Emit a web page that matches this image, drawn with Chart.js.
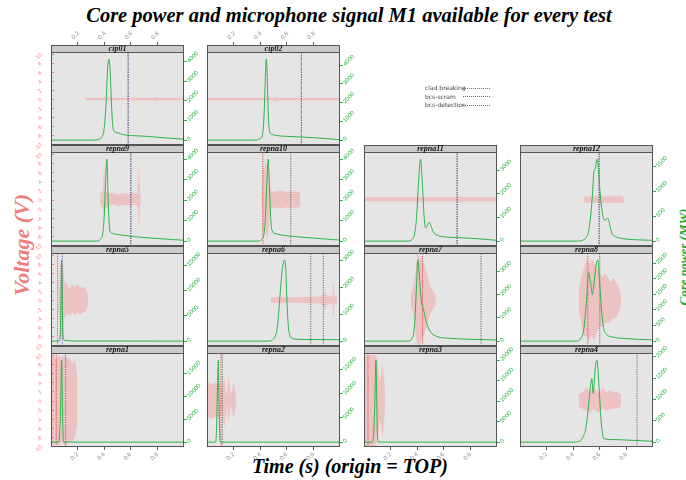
<!DOCTYPE html>
<html>
<head>
<meta charset="utf-8">
<script src="https://cdn.jsdelivr.net/npm/chart.js@4.4.1/dist/chart.umd.min.js"></script>
<style>
  body { margin: 0; background: #fff; }
  #page { position: relative; width: 686px; height: 480px; overflow: hidden; }
  #page canvas { position: absolute; }
  .strip { position: absolute; height: 8px; box-sizing: border-box; border: 1px solid #555; background: #cbcbcb;
           font: italic bold 8px "Liberation Serif", serif; line-height: 6px; text-align: center; color: #111; z-index: 2; }
  .lbl { position: absolute; white-space: nowrap; font-family: "Liberation Serif", serif; font-style: italic; font-weight: bold; }
  .leg { position: absolute; font: 6px "DejaVu Sans", sans-serif; color: #444; white-space: nowrap; }
  .legline { position: absolute; width: 27px; height: 0; border-top: 1px dotted; }
</style>
</head>
<body>
<div id="page">
  <div class="lbl" style="left:0;width:698px;top:4px;text-align:center;font-size:20.5px;">Core power and microphone signal M1 available for every test</div>
  <div class="lbl" style="left:0;width:700px;top:455px;text-align:center;font-size:20px;">Time (s) (origin = TOP)</div>
  <div class="lbl" style="left:22px;top:245px;font-size:22px;color:#f07c7c;transform:translate(-50%,-50%) rotate(-90deg);">Voltage (V)</div>
  <div class="lbl" style="left:684px;top:257px;font-size:13px;color:#22aa33;transform:translate(-50%,-50%) rotate(-90deg);">Core power (MW)</div>
</div>
<script>
// panels in drawing order (lattice layout, bottom row = repna1..4)
const panelNames = ['cip01', 'cip02', 'repna9', 'repna10', 'repna11', 'repna12',
                    'repna5', 'repna6', 'repna7', 'repna8', 'repna1', 'repna2', 'repna3', 'repna4'];
const panelRow = [0, 0, 1, 1, 1, 1, 2, 2, 2, 2, 3, 3, 3, 3];
const panelCol = [0, 1, 0, 1, 2, 3, 0, 1, 2, 3, 0, 1, 2, 3];

// event times (s)
const cladBreaking = [null, null, null, 0.42, null, null, 0.05, null, 0.44, 0.51, 0.04, 0.105, 0.03, null];
const bcsScram     = [0.58, 0.71, 0.60, 0.63, 0.70, 0.595, null, 0.78, 0.88, 0.60, 0.11, 0.115, null, 0.88];
const bcsDetection = [0.58, 0.71, 0.60, null, 0.70, 0.595, 0.085, 0.875, null, null, null, null, null, null];

// tick labels
const timeTicks = [0.2, 0.4, 0.6, 0.8];
const voltTicks = [-10, -8, -6, -4, -2, 0, 2, 4, 6, 8, 10];
const powerStep = [1000, 1000, 1000, 1000, 1000, 500, 5000, 1000, 1000, 500, 5000, 5000, 5000, 500];

// core power (MW) : time / value
const cip01_t = [0, 0.30, 0.36, 0.38, 0.40, 0.415, 0.425, 0.436, 0.445, 0.455, 0.465, 0.48, 0.50, 0.52, 0.56, 0.65, 0.75, 0.85, 1.0];
const cip01_p = [0, 0, 40, 150, 600, 2000, 3600, 4140, 3500, 1800, 700, 420, 380, 330, 260, 220, 180, 120, 50];
const cip02_t = [0, 0.36, 0.40, 0.42, 0.43, 0.44, 0.446, 0.452, 0.46, 0.47, 0.49, 0.52, 0.6, 0.7, 0.8, 0.9, 1.0];
const cip02_p = [0, 0, 80, 400, 1500, 3600, 4320, 3600, 1500, 500, 300, 250, 200, 170, 130, 80, 20];
const repna9_t = [0, 0.34, 0.37, 0.39, 0.40, 0.41, 0.42, 0.43, 0.44, 0.45, 0.47, 0.5, 0.55, 0.62, 0.75, 0.9, 1.0];
const repna9_p = [0, 0, 80, 400, 1200, 2800, 4000, 2000, 600, 420, 360, 320, 280, 220, 150, 80, 40];
const repna10_t = [0, 0.38, 0.41, 0.43, 0.44, 0.45, 0.46, 0.47, 0.48, 0.49, 0.51, 0.54, 0.6, 0.7, 0.85, 1.0];
const repna10_p = [0, 0, 80, 400, 1200, 2800, 4000, 2600, 1000, 500, 380, 320, 260, 200, 120, 50];
const repna11_t = [0, 0.33, 0.36, 0.38, 0.395, 0.41, 0.425, 0.44, 0.455, 0.465, 0.48, 0.49, 0.50, 0.52, 0.55, 0.6, 0.7, 0.8, 0.9, 1.0];
const repna11_p = [0, 0, 60, 300, 1000, 2500, 3460, 2300, 800, 560, 700, 790, 700, 400, 250, 180, 150, 120, 80, 30];
const repna12_t = [0, 0.45, 0.48, 0.50, 0.52, 0.544, 0.556, 0.565, 0.58, 0.59, 0.60, 0.615, 0.635, 0.645, 0.66, 0.675, 0.69, 0.72, 0.77, 0.85, 1.0];
const repna12_p = [0, 0, 30, 80, 250, 900, 1400, 1450, 1650, 1450, 1050, 650, 420, 430, 460, 330, 160, 90, 50, 30, 15];
const repna5_t = [0, 0.06, 0.07, 0.075, 0.08, 0.085, 0.09, 0.1, 0.2, 1.0];
const repna5_p = [0, 0, 1500, 8000, 16000, 8000, 1500, 200, 30, 0];
const repna6_t = [0, 0.46, 0.49, 0.51, 0.525, 0.536, 0.549, 0.56, 0.572, 0.584, 0.593, 0.60, 0.61, 0.624, 0.64, 0.67, 0.8, 1.0];
const repna6_p = [0, 0, 40, 150, 400, 870, 1700, 2370, 2850, 3000, 2600, 1620, 640, 190, 110, 70, 60, 50];
const repna7_t = [0, 0.33, 0.36, 0.38, 0.395, 0.405, 0.415, 0.43, 0.45, 0.47, 0.5, 0.55, 0.65, 0.8, 1.0];
const repna7_p = [0, 0, 100, 700, 2400, 3500, 2900, 1800, 1300, 800, 400, 200, 120, 80, 50];
const repna8_t = [0, 0.42, 0.46, 0.48, 0.50, 0.515, 0.53, 0.545, 0.56, 0.575, 0.585, 0.60, 0.615, 0.63, 0.65, 0.7, 0.8, 1.0];
const repna8_p = [0, 0, 100, 400, 1300, 2200, 1900, 1500, 2000, 2500, 2600, 1800, 900, 400, 220, 130, 80, 40];
const repna1_t = [0, 0.06, 0.066, 0.07, 0.075, 0.08, 0.085, 0.09, 0.095, 1.0];
const repna1_p = [0, 0, 3000, 5000, 12000, 18000, 10000, 2000, 0, 0];
const repna2_t = [0, 0.065, 0.072, 0.078, 0.085, 0.09, 0.095, 0.1, 1.0];
const repna2_p = [0, 0, 3000, 10000, 17000, 9000, 2000, 0, 0];
const repna3_t = [0, 0.06, 0.07, 0.08, 0.09, 0.095, 0.1, 0.11, 1.0];
const repna3_p = [0, 0, 1000, 8000, 20000, 12000, 3000, 0, 0];
const repna4_t = [0, 0.40, 0.446, 0.47, 0.494, 0.51, 0.52, 0.54, 0.55, 0.565, 0.578, 0.596, 0.605, 0.614, 0.63, 0.7, 0.85, 1.0];
const repna4_p = [0, 0, 20, 100, 310, 700, 1015, 1485, 1140, 1715, 1920, 1220, 700, 350, 80, 60, 40, 20];

// microphone signal M1 (V) : envelope time / upper / lower
const cip01_vt  = [0.26, 0.35, 0.43, 0.435, 0.44, 0.55, 0.62, 0.625, 0.63, 0.78, 0.785, 0.79, 1.0];
const cip01_vhi = [0.25, 0.25, 0.25, 0.8, 0.25, 0.25, 0.25, 0.8, 0.25, 0.25, 0.7, 0.25, 0.25];
const cip01_vlo = [-0.25, -0.25, -0.25, -0.8, -0.25, -0.25, -0.25, -0.8, -0.25, -0.25, -0.7, -0.25, -0.25];
const cip02_vt  = [0, 0.3, 0.52, 0.525, 0.53, 1.0];
const cip02_vhi = [0.3, 0.3, 0.3, 0.8, 0.3, 0.3];
const cip02_vlo = [-0.3, -0.3, -0.3, -0.8, -0.3, -0.3];
const repna9_vt  = [0.37, 0.38, 0.39, 0.40, 0.41, 0.43, 0.46, 0.5, 0.54, 0.58, 0.62, 0.65, 0.66, 0.67, 0.675];
const repna9_vhi = [1.0, 1.6, 2, 8, 2, 1.2, 1.5, 1.1, 1.4, 1.2, 1.4, 1.2, 8.5, 1.3, 1.0];
const repna9_vlo = [-1.0, -1.4, -2, -4, -2, -1.3, -1.1, -1.5, -1.2, -1.4, -1.2, -1.3, -6.5, -1.3, -1.0];
const repna10_vt  = [0.41, 0.42, 0.43, 0.44, 0.45, 0.46, 0.47, 0.48, 0.5, 0.55, 0.6, 0.63, 0.64, 0.65, 0.7];
const repna10_vhi = [1, 8, 6, 9, 7, 8, 4, 2.0, 1.7, 2.0, 1.7, 2.0, 1.7, 1.8, 1.7];
const repna10_vlo = [-1, -7, -8, -6, -9, -7, -4, -2.0, -1.7, -2.0, -1.7, -2.0, -1.7, -1.8, -1.7];
const repna11_vt  = [0, 0.4, 0.41, 0.42, 0.7, 0.72, 0.73, 0.74, 1.0];
const repna11_vhi = [0.45, 0.45, 0.8, 0.45, 0.45, 0.45, 0.9, 0.45, 0.45];
const repna11_vlo = [-0.45, -0.45, -0.8, -0.45, -0.45, -0.45, -0.9, -0.45, -0.45];
const repna12_vt  = [0.48, 0.55, 0.6, 0.605, 0.61, 0.7, 0.78];
const repna12_vhi = [0.7, 0.7, 0.7, 1.5, 0.7, 0.7, 0.7];
const repna12_vlo = [-0.7, -0.7, -0.7, -1.5, -0.7, -0.7, -0.7];
const repna5_vt  = [0.06, 0.07, 0.08, 0.09, 0.1, 0.12, 0.14, 0.16, 0.18, 0.2, 0.22, 0.24, 0.26, 0.28];
const repna5_vhi = [2, 9, 7, 8, 4, 3.5, 2.5, 3.5, 2.8, 3.5, 2.6, 3, 2.5, 1];
const repna5_vlo = [-2, -8, -9, -7, -4, -3, -3.5, -2.7, -3.4, -2.8, -3.2, -2.8, -2.5, -1];
const repna6_vt  = [0.48, 0.55, 0.65, 0.75, 0.85, 0.88, 0.89, 0.9, 0.94, 0.95, 0.96, 0.98];
const repna6_vhi = [0.6, 0.7, 0.6, 0.7, 0.8, 1.4, 2, 1.0, 0.8, 4, 0.8, 0.7];
const repna6_vlo = [-0.6, -0.7, -0.6, -0.7, -0.8, -1.4, -2, -1.0, -0.8, -4.3, -0.8, -0.7];
const repna7_vt  = [0.35, 0.37, 0.39, 0.40, 0.41, 0.42, 0.43, 0.44, 0.45, 0.46, 0.48, 0.5, 0.52, 0.54];
const repna7_vhi = [1, 3, 7, 10, 10, 9, 10, 8, 9, 7, 5, 3, 2, 1];
const repna7_vlo = [-1, -3, -8, -10, -10, -10, -9, -9, -8, -7, -5, -3, -2, -1];
const repna8_vt  = [0.44, 0.46, 0.48, 0.5, 0.52, 0.54, 0.56, 0.58, 0.6, 0.62, 0.64, 0.66, 0.68, 0.7, 0.72, 0.74, 0.76];
const repna8_vhi = [2, 5, 7, 9, 8, 9, 8, 7, 6, 5, 6, 5, 4, 5, 4, 3, 1];
const repna8_vlo = [-2, -5, -8, -8, -9, -8, -9, -7, -6, -6, -5, -5, -5, -4, -4, -3, -1];
const repna1_vt  = [0, 0.02, 0.04, 0.06, 0.08, 0.1, 0.12, 0.14, 0.16, 0.18, 0.2];
const repna1_vhi = [9.5, 10, 9, 10, 9.5, 10, 9, 9.5, 8, 9, 5];
const repna1_vlo = [-9.5, -10, -9.5, -10, -9, -10, -9.5, -9, -9, -8, -5];
const repna2_vt  = [0, 0.02, 0.04, 0.06, 0.08, 0.1, 0.11, 0.13, 0.15, 0.16, 0.18, 0.2, 0.22];
const repna2_vhi = [3, 4, 3.5, 4, 3.5, 4, 2, 5, 1, 6, 1, 4, 0.5];
const repna2_vlo = [-3, -4, -4, -3.5, -4, -3.5, -2, -6, -1, -5, -1, -4, -0.5];
const repna3_vt  = [0, 0.02, 0.04, 0.06, 0.08, 0.1, 0.12, 0.14, 0.16];
const repna3_vhi = [10, 10, 10, 10, 10, 9, 4, 8, 2];
const repna3_vlo = [-10, -10, -10, -10, -10, -9, -4, -8, -2];
const repna4_vt  = [0.44, 0.47, 0.5, 0.53, 0.55, 0.57, 0.6, 0.62, 0.65, 0.68, 0.7, 0.73, 0.76];
const repna4_vhi = [1.3, 1.8, 2.8, 1.8, 2.8, 2.3, 1.8, 2.8, 1.8, 2.3, 1.8, 1.8, 1.3];
const repna4_vlo = [-1.3, -1.8, -2.3, -2.8, -1.8, -2.3, -2.8, -1.8, -2.3, -1.8, -1.8, -1.8, -1.3];

const powerT = [cip01_t, cip02_t, repna9_t, repna10_t, repna11_t, repna12_t, repna5_t, repna6_t, repna7_t, repna8_t, repna1_t, repna2_t, repna3_t, repna4_t];
const powerV = [cip01_p, cip02_p, repna9_p, repna10_p, repna11_p, repna12_p, repna5_p, repna6_p, repna7_p, repna8_p, repna1_p, repna2_p, repna3_p, repna4_p];
const sigT = [cip01_vt, cip02_vt, repna9_vt, repna10_vt, repna11_vt, repna12_vt, repna5_vt, repna6_vt, repna7_vt, repna8_vt, repna1_vt, repna2_vt, repna3_vt, repna4_vt];
const sigHi = [cip01_vhi, cip02_vhi, repna9_vhi, repna10_vhi, repna11_vhi, repna12_vhi, repna5_vhi, repna6_vhi, repna7_vhi, repna8_vhi, repna1_vhi, repna2_vhi, repna3_vhi, repna4_vhi];
const sigLo = [cip01_vlo, cip02_vlo, repna9_vlo, repna10_vlo, repna11_vlo, repna12_vlo, repna5_vlo, repna6_vlo, repna7_vlo, repna8_vlo, repna1_vlo, repna2_vlo, repna3_vlo, repna4_vlo];

// layout
const COL_X = [51, 207, 364, 520];
const PANEL_W = 133;
const ROW_Y = [45, 145, 246, 346, 447];
const STRIP_H = 8, PADL = 22, PADR = 34, PADT = 18, PADB = 20, VL = 10.2;
const GREEN = '#2bb548', PINK = 'rgba(240,140,140,0.35)', PINK_FILL = 'rgba(244,165,165,0.55)';
const EVENT_COLORS = ['#e04848', '#6a6a6a', '#6060c8'];

const page = document.getElementById('page');

const panelPlugin = {
  id: 'panel',
  beforeDraw(chart) {
    const { ctx, chartArea: a } = chart;
    ctx.save();
    ctx.fillStyle = '#e5e5e5';
    ctx.fillRect(a.left, a.top, a.width, a.height);
    ctx.restore();
  },
  afterDraw(chart, args, opts) {
    const { ctx, chartArea: a } = chart;
    ctx.save();
    if (opts.innerTicks) {
      const ys = chart.scales.y;
      ctx.strokeStyle = '#f07c7c';
      ctx.lineWidth = 1;
      ys.ticks.forEach(t => {
        const py = Math.round(ys.getPixelForValue(t.value)) + 0.5;
        ctx.beginPath(); ctx.moveTo(a.left, py); ctx.lineTo(a.left + 3, py); ctx.stroke();
      });
    }
    ctx.strokeStyle = '#555';
    ctx.lineWidth = 1;
    ctx.strokeRect(a.left + 0.5, a.top + 0.5, a.width - 1, a.height - 1);
    ctx.restore();
  }
};

function xAxis(pos, show, height) {
  return {
    type: 'linear', axis: 'x', position: pos, min: 0, max: 1,
    afterFit: s => { s.height = height; },
    afterBuildTicks: s => { s.ticks = timeTicks.map(v => ({ value: v })); },
    grid: { display: show, drawOnChartArea: false, drawTicks: true, tickLength: 3, color: '#555', tickColor: '#555' },
    border: { display: false },
    ticks: { display: show, autoSkip: false, minRotation: 45, maxRotation: 45, padding: 1, color: '#8a8a8a',
             font: { size: 6 }, callback: v => String(v) }
  };
}

panelNames.forEach((name, i) => {
  const r = panelRow[i], c = panelCol[i];
  const top = ROW_Y[r], h = ROW_Y[r + 1] - top, plotH = h - STRIP_H;
  const t = powerT[i], p = powerV[i];
  const pmax = Math.max(...p);
  const lo = -0.06 * pmax, hi = 1.075 * pmax;
  const pTop = hi + (hi - lo) * STRIP_H / plotH;
  const vTop = VL + 2 * VL * STRIP_H / plotH;
  const step = powerStep[i];

  const cv = document.createElement('canvas');
  cv.width = PADL + PANEL_W + PADR;
  cv.height = PADT + h + PADB;
  cv.style.left = (COL_X[c] - PADL) + 'px';
  cv.style.top = (top - PADT) + 'px';
  page.appendChild(cv);

  const strip = document.createElement('div');
  strip.className = 'strip';
  strip.style.left = COL_X[c] + 'px';
  strip.style.top = top + 'px';
  strip.style.width = PANEL_W + 'px';
  strip.textContent = name;
  page.appendChild(strip);

  const events = [cladBreaking[i], bcsScram[i], bcsDetection[i]];
  const eventSets = [];
  events.forEach((ev, k) => {
    if (ev == null) return;
    eventSets.push({
      data: [{ x: ev, y: -VL }, { x: ev, y: VL }], yAxisID: 'y',
      borderColor: EVENT_COLORS[k], borderWidth: 1, borderDash: [1.2, 1.2],
      pointRadius: 0, fill: false
    });
  });

  new Chart(cv, {
    type: 'line',
    data: {
      datasets: [
        { data: t.map((x, k) => ({ x, y: p[k] })), yAxisID: 'y1', borderColor: GREEN, borderWidth: 1,
          pointRadius: 0, cubicInterpolationMode: 'monotone', fill: false },
        ...eventSets,
        { data: sigT[i].map((x, k) => ({ x, y: sigHi[i][k] })), yAxisID: 'y', borderColor: PINK, borderWidth: 0,
          pointRadius: 0, fill: false },
        { data: sigT[i].map((x, k) => ({ x, y: sigLo[i][k] })), yAxisID: 'y', borderColor: PINK, borderWidth: 0,
          pointRadius: 0, fill: '-1', backgroundColor: PINK_FILL }
      ]
    },
    options: {
      responsive: false, animation: false, devicePixelRatio: 1,
      layout: { padding: 0 },
      plugins: { legend: { display: false }, tooltip: { enabled: false }, panel: { innerTicks: c === 0 } },
      scales: {
        x: xAxis('bottom', r === 3, PADB),
        xt: xAxis('top', r === 0 && c < 2, PADT),
        y: {
          type: 'linear', position: 'left', min: -VL, max: vTop,
          afterFit: s => { s.width = PADL; },
          afterBuildTicks: s => { s.ticks = voltTicks.map(v => ({ value: v })); },
          grid: { display: false }, border: { display: false },
          ticks: { display: c === 0, autoSkip: false, minRotation: 45, maxRotation: 90, padding: 2, color: '#f07c7c',
                   font: { size: 5.5 }, callback: v => String(v) }
        },
        y1: {
          type: 'linear', position: 'right', min: lo, max: pTop,
          afterFit: s => { s.width = PADR; },
          afterBuildTicks: s => {
            const ticks = [];
            for (let v = 0; v <= hi; v += step) ticks.push({ value: v });
            s.ticks = ticks;
          },
          grid: { display: true, drawOnChartArea: false, drawTicks: true, tickLength: 3, color: GREEN, tickColor: GREEN },
          border: { display: false },
          ticks: { autoSkip: false, minRotation: 45, maxRotation: 90, padding: 1, color: GREEN, font: { size: 6 },
                   callback: v => String(v) }
        }
      }
    },
    plugins: [panelPlugin]
  });
});

// legend for the event lines
const legendLabels = ['clad breaking', 'bcs-scram', 'bcs-detection'];
legendLabels.forEach((txt, k) => {
  const y = 84 + k * 8.5;
  const l = document.createElement('div');
  l.className = 'leg';
  l.style.left = '425px';
  l.style.top = y + 'px';
  l.textContent = txt;
  page.appendChild(l);
  const ln = document.createElement('div');
  ln.className = 'legline';
  ln.style.left = '463px';
  ln.style.top = (y + 3.5) + 'px';
  ln.style.borderTopColor = EVENT_COLORS[k];
  page.appendChild(ln);
});
</script>
</body>
</html>
